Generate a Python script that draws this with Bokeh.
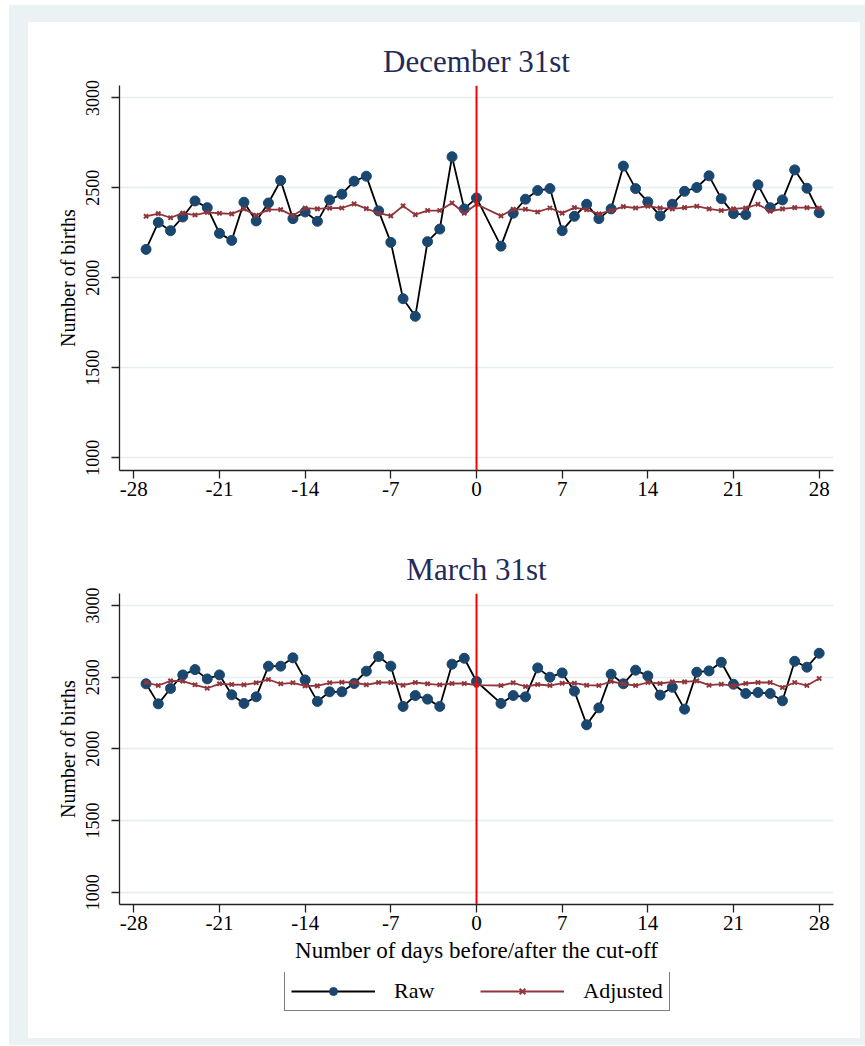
from bokeh.plotting import figure
from bokeh.models import Span, Legend, LegendItem, FixedTicker, CustomJSTickFormatter
from bokeh.layouts import column
from bokeh.embed import file_html
from bokeh.resources import INLINE

# ---- data ----
days = list(range(-27, 1)) + list(range(2, 29))
x_ticks = [-28, -21, -14, -7, 0, 7, 14, 21, 28]
y_ticks = [1000, 1500, 2000, 2500, 3000]

dec_raw = [2158, 2308, 2262, 2338, 2427, 2390, 2247, 2208, 2420, 2316, 2416, 2541, 2329, 2366,
           2314, 2433, 2465, 2537, 2565, 2372, 2197, 1884, 1786, 2201, 2271, 2673, 2383, 2444,
           2176, 2359, 2437, 2485, 2496, 2262, 2342, 2409, 2329, 2383, 2621, 2496, 2422, 2344,
           2409, 2481, 2502, 2567, 2440, 2357, 2351, 2517, 2390, 2433, 2600, 2498, 2362]
dec_adj = [2342, 2357, 2334, 2360, 2349, 2364, 2359, 2355, 2383, 2347, 2379, 2379, 2346, 2387,
           2383, 2387, 2388, 2411, 2385, 2359, 2344, 2400, 2351, 2374, 2374, 2416, 2359, 2409,
           2344, 2381, 2381, 2366, 2388, 2360, 2390, 2379, 2355, 2374, 2396, 2388, 2398, 2388,
           2383, 2390, 2398, 2383, 2374, 2383, 2388, 2409, 2370, 2383, 2390, 2390, 2387]
mar_raw = [2454, 2314, 2421, 2516, 2553, 2488, 2516, 2377, 2317, 2363, 2577, 2577, 2635, 2481,
           2331, 2398, 2398, 2456, 2542, 2644, 2577, 2296, 2372, 2347, 2296, 2591, 2632, 2470,
           2317, 2372, 2363, 2565, 2500, 2530, 2403, 2168, 2286, 2521, 2454, 2549, 2509, 2375,
           2430, 2277, 2535, 2544, 2604, 2451, 2386, 2393, 2386, 2335, 2611, 2570, 2667]
mar_adj = [2463, 2442, 2474, 2472, 2447, 2423, 2454, 2449, 2447, 2461, 2484, 2454, 2461, 2440,
           2440, 2461, 2465, 2463, 2447, 2463, 2463, 2444, 2463, 2454, 2447, 2456, 2456, 2445,
           2442, 2461, 2435, 2449, 2442, 2458, 2458, 2444, 2442, 2470, 2454, 2442, 2463, 2456,
           2467, 2467, 2474, 2444, 2451, 2440, 2456, 2463, 2463, 2428, 2463, 2442, 2491]

titles = ["December 31st", "March 31st"]
series_names = ["Raw", "Adjusted"]
y_label = "Number of births"
x_label = "Number of days before/after the cut-off"

FONT = "Liberation Serif"
RAW_MARK = "#1a476f"
ADJ_COL = "#90353b"
OUTER = "#eaf2f3"
GRID = "#e6eef0"

RAW_LINE = dict(line_color="black", line_width=1.8)
RAW_PTS = dict(marker="circle", size=10, fill_color=RAW_MARK, line_color=RAW_MARK)
ADJ_LINE = dict(line_color=ADJ_COL, line_width=1.8)
ADJ_PTS = dict(marker="x", size=6, line_color=ADJ_COL, line_width=2)


def make_panel(title, raw, adj, y_range, height, b_top, b_bottom, show_xlabel):
    p = figure(width=832, height=height, x_range=(-29.17, 29.17), y_range=y_range,
               output_backend="svg", toolbar_location=None,
               min_border_left=91, min_border_right=27,
               min_border_top=b_top, min_border_bottom=b_bottom, title=title)
    p.outline_line_color = None
    p.background_fill_color = "white"
    p.border_fill_color = "white"

    p.title.align = "center"
    p.title.text_font = FONT
    p.title.text_font_size = "31px"
    p.title.text_font_style = "normal"
    p.title.text_color = "#1f2b5a"
    p.title.standoff = 14

    p.xgrid.visible = False
    p.ygrid.grid_line_color = GRID
    p.ygrid.grid_line_width = 1.5

    p.xaxis.ticker = FixedTicker(ticks=x_ticks)
    p.yaxis.ticker = FixedTicker(ticks=y_ticks)
    p.xaxis.formatter = CustomJSTickFormatter(code="return String(tick)")
    for ax in (p.xaxis, p.yaxis):
        ax.axis_line_color = "#222222"
        ax.axis_line_width = 1.3
        ax.major_tick_line_color = "#222222"
        ax.major_tick_line_width = 1.3
        ax.major_tick_in = 0
        ax.major_tick_out = 8
        ax.minor_tick_line_color = None
        ax.major_label_text_font = FONT
        ax.major_label_text_color = "black"
        ax.axis_label_text_font = FONT
        ax.axis_label_text_font_style = "normal"
        ax.axis_label_text_color = "black"
    p.xaxis.major_label_text_font_size = "21px"
    p.xaxis.major_label_standoff = 3
    p.yaxis.major_label_text_font_size = "18px"
    p.yaxis.major_label_orientation = "vertical"
    p.yaxis.major_label_standoff = 12
    p.yaxis.axis_label = y_label
    p.yaxis.axis_label_text_font_size = "20px"
    p.yaxis.axis_label_standoff = 5
    if show_xlabel:
        p.xaxis.axis_label = x_label
        p.xaxis.axis_label_text_font_size = "23px"
        p.xaxis.axis_label_standoff = 5

    p.add_layout(Span(location=0, dimension="height", line_color="red", line_width=2))

    p.line(days, raw, **RAW_LINE)
    p.scatter(days, raw, **RAW_PTS)
    p.line(days, adj, **ADJ_LINE)
    p.scatter(days, adj, **ADJ_PTS)
    return p


p1 = make_panel(titles[0], dec_raw, dec_adj, (929, 3069), 508, 63, 60, False)
p2 = make_panel(titles[1], mar_raw, mar_adj, (914, 3084), 442, 63, 68, True)

# legend row: its own small figure; the series are re-drawn here far outside its
# (0, 1) ranges, so only their legend keys show
p3 = figure(width=832, height=66, x_range=(0, 1), y_range=(0, 1),
            output_backend="svg", toolbar_location=None,
            x_axis_type=None, y_axis_type=None,
            min_border_left=91, min_border_right=27, min_border_top=0, min_border_bottom=0)
p3.outline_line_color = None
p3.background_fill_color = "white"
p3.border_fill_color = "white"
k1 = p3.line(days, mar_raw, **RAW_LINE)
k2 = p3.scatter(days, mar_raw, **RAW_PTS)
k3 = p3.line(days, mar_adj, **ADJ_LINE)
k4 = p3.scatter(days, mar_adj, **ADJ_PTS)

legend = Legend(items=[LegendItem(label=series_names[0], renderers=[k1, k2]),
                       LegendItem(label=series_names[1], renderers=[k3, k4])],
                location=(165, 27), orientation="horizontal",
                glyph_width=84, glyph_height=20, label_standoff=19, spacing=46,
                padding=6, margin=0,
                border_line_color="black", border_line_width=1.2,
                background_fill_color="white", background_fill_alpha=1,
                label_text_font=FONT, label_text_font_size="22px", label_text_color="black")
p3.add_layout(legend)

layout = column(p1, p2, p3, margin=(22, 0, 0, 28),
                styles={"background-color": "white",
                        "box-shadow": "-7px -5px 0px 12px " + OUTER})

open("out.html", "w").write(file_html(layout, INLINE))
